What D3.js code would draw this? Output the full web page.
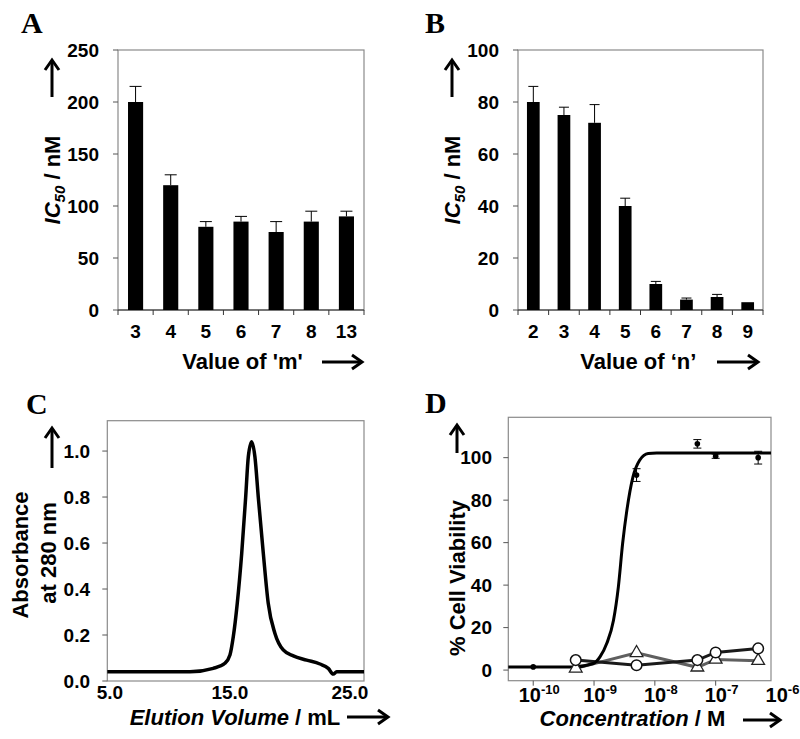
<!DOCTYPE html>
<html><head><meta charset="utf-8">
<script src="https://cdn.jsdelivr.net/npm/d3@7"></script>
<style>body{margin:0;background:#fff} svg{display:block}</style>
</head><body>
<svg id="c" width="800" height="739"></svg>
<script>
// ---------- DATA ----------
const catsA = ['3','4','5','6','7','8','13'];
const valsA = [200,120,80,85,75,85,90];
const errA  = [15,10,5,5,10,10,5];
const ticksA = [0,50,100,150,200,250];

const catsB = ['2','3','4','5','6','7','8','9'];
const valsB = [80,75,72,40,10,4,5,3];
const errB  = [6,3,7,3,1,0.6,1,0];
const ticksB = [0,20,40,60,80,100];

const elutionVol = [4.78,11.67,13.61,14.58,15.0,15.28,15.61,15.98,16.31,16.53,16.81,17.08,17.36,17.78,18.19,18.75,19.44,20.28,21.39,22.5,23.19,23.61,23.89,26.17];
const absorbance = [0.04,0.04,0.055,0.077,0.113,0.193,0.338,0.555,0.80,0.975,1.04,0.975,0.80,0.555,0.338,0.207,0.135,0.109,0.091,0.074,0.055,0.030,0.04,0.04];
const ticksCy = [0,0.2,0.4,0.6,0.8,1.0];
const ticksCx = [5,15,25];

const concDots = [1e-10,5e-10,5e-9,5e-8,1e-7,5e-7];
const viabDots = [1.5,1.6,91.8,106.5,100.7,100];
const errDots  = [0.5,0.5,3,2,1,3];
const concOpen = [5e-10,5e-9,5e-8,1e-7,5e-7];
const viabCircles   = [4.7,2.3,4.7,8.3,10.2];
const viabTriangles = [0.8,8.1,1.3,5.0,4.4];
const fitLogConc = [-10.41,-9.34,-9.01,-8.90,-8.79,-8.68,-8.60,-8.53,-8.46,-8.36,-8.25,-8.11,-7.97,-6.09];
const fitViab    = [1.5,1.5,3.1,6.3,12.6,23.5,39.2,59.6,75.3,91,98.8,102,102.2,102.2];
const ticksDy = [0,20,40,60,80,100];
const ticksDxExp = [-10,-9,-8,-7,-6];

// ---------- DRAW ----------
const svg = d3.select('#c');
const SANS = "'Liberation Sans', Arial, sans-serif";
const SERIF = "'Liberation Serif', 'Times New Roman', serif";
const FRAME = '#8a8a8a';
const TICKFS = 19, TITLEFS = 22;

function arrowH(x1, x2, y){
  svg.append('line').attr('x1',x1).attr('x2',x2-2).attr('y1',y).attr('y2',y)
    .attr('stroke','#000').attr('stroke-width',3);
  svg.append('path').attr('d',`M${x2-10},${y-7}L${x2},${y}L${x2-10},${y+7}`)
    .attr('fill','none').attr('stroke','#000').attr('stroke-width',3);
}
function arrowV(x, yBottom, yTop){
  svg.append('line').attr('x1',x).attr('x2',x).attr('y1',yBottom).attr('y2',yTop+2)
    .attr('stroke','#000').attr('stroke-width',3);
  svg.append('path').attr('d',`M${x-7},${yTop+10}L${x},${yTop}L${x+7},${yTop+10}`)
    .attr('fill','none').attr('stroke','#000').attr('stroke-width',3);
}
function letter(t,x,y){
  svg.append('text').attr('x',x).attr('y',y).text(t)
    .attr('font-family',SERIF).attr('font-weight','bold').attr('font-size',30);
}
function frame(l,r,t,b){
  svg.append('rect').attr('x',l).attr('y',t).attr('width',r-l).attr('height',b-t)
    .attr('fill','none').attr('stroke',FRAME).attr('stroke-width',1.2);
}
function yTicks(scale, ticks, l, fmt, labelRight){
  ticks.forEach(v=>{
    const y = scale(v);
    svg.append('line').attr('x1',l-5).attr('x2',l).attr('y1',y).attr('y2',y)
      .attr('stroke','#555').attr('stroke-width',1);
    svg.append('text').attr('x',labelRight).attr('y',y).attr('dy','0.35em')
      .attr('text-anchor','end').attr('font-family',SANS).attr('font-weight','bold')
      .attr('font-size',TICKFS).text(fmt(v));
  });
}

function barPanel(o){
  const x = d3.scaleBand().domain(o.cats).range([o.l,o.r])
    .paddingInner(o.pad).paddingOuter(o.pad/2);
  const y = d3.scaleLinear().domain(o.dom).range([o.b,o.t]);
  frame(o.l,o.r,o.t,o.b);
  svg.append('line').attr('x1',o.l).attr('x2',o.r).attr('y1',o.b).attr('y2',o.b)
    .attr('stroke','#333').attr('stroke-width',1.2);
  const step = x.step();
  for(let i=0;i<=o.cats.length;i++){
    const xx = o.l + i*step;
    svg.append('line').attr('x1',xx).attr('x2',xx).attr('y1',o.b).attr('y2',o.b+5)
      .attr('stroke','#333').attr('stroke-width',1);
  }
  yTicks(y, o.ticks, o.l, d=>d, o.l-19);
  svg.append('g').selectAll('rect').data(o.vals).join('rect')
    .attr('x',(d,i)=>x(o.cats[i])).attr('width',x.bandwidth())
    .attr('y',d=>y(d)).attr('height',d=>o.b-y(d)).attr('fill','#000');
  o.vals.forEach((v,i)=>{
    if(!o.errs[i]) return;
    const cx = x(o.cats[i]) + x.bandwidth()/2;
    svg.append('line').attr('x1',cx).attr('x2',cx).attr('y1',y(v)).attr('y2',y(v+o.errs[i]))
      .attr('stroke','#000').attr('stroke-width',1);
    svg.append('line').attr('x1',cx-o.cap).attr('x2',cx+o.cap)
      .attr('y1',y(v+o.errs[i])).attr('y2',y(v+o.errs[i]))
      .attr('stroke','#000').attr('stroke-width',1);
  });
  o.cats.forEach(c=>{
    svg.append('text').attr('x',x(c)+x.bandwidth()/2).attr('y',338)
      .attr('text-anchor','middle').attr('font-family',SANS).attr('font-weight','bold')
      .attr('font-size',TICKFS).text(c);
  });
  const yt = svg.append('text').attr('transform',`translate(${o.ytx},180) rotate(-90)`)
    .attr('text-anchor','middle').attr('dy','0.35em')
    .attr('font-family',SANS).attr('font-weight','bold').attr('font-size',TITLEFS);
  yt.append('tspan').attr('font-style','italic').text('IC');
  yt.append('tspan').attr('font-style','italic').attr('font-size',15).attr('dy',5).text('50');
  yt.append('tspan').attr('dy',-5).text(' / nM');
  arrowV(o.ytx, 97, 60);
  svg.append('text').attr('x',o.xtx).attr('y',369).attr('text-anchor','middle')
    .attr('font-family',SANS).attr('font-weight','bold').attr('font-size',TITLEFS)
    .text(o.xtitle);
  arrowH(o.ax1, o.ax2, 362);
}

letter('A',21,33);
barPanel({cats:catsA, vals:valsA, errs:errA, ticks:ticksA, dom:[0,250],
  l:118, r:364, t:50, b:310, pad:0.57, cap:6, ytx:52, xtx:242.5,
  xtitle:"Value of 'm'", ax1:322, ax2:362});
letter('B',425,33);
barPanel({cats:catsB, vals:valsB, errs:errB, ticks:ticksB, dom:[0,100],
  l:518, r:763, t:50, b:310, pad:0.585, cap:5, ytx:452, xtx:638.3,
  xtitle:"Value of \u2018n\u2019", ax1:717, ax2:758});

// ---------- Panel C ----------
letter('C',26,414);
{
  const l=107.3, r=364, t=420.7, b=681;
  const x = d3.scaleLinear().domain([4.78,26.17]).range([l,r]);
  const y = d3.scaleLinear().domain([0,1.132]).range([b,t]);
  frame(l,r,t,b);
  yTicks(y, ticksCy, l, d=>d.toFixed(1), 90);
  ticksCx.forEach(v=>{
    svg.append('text').attr('x',x(v)).attr('y',699).attr('text-anchor','middle')
      .attr('font-family',SANS).attr('font-weight','bold').attr('font-size',TICKFS)
      .text(v.toFixed(1));
  });
  const line = d3.line().x((d,i)=>x(elutionVol[i])).y(d=>y(d)).curve(d3.curveMonotoneX);
  svg.append('path').attr('d',line(absorbance)).attr('fill','none')
    .attr('stroke','#000').attr('stroke-width',3.5).attr('stroke-linejoin','round');
  svg.append('text').attr('transform','translate(20,555) rotate(-90)').attr('dy','0.35em')
    .attr('font-family',SANS).attr('font-weight','bold').attr('font-size',TITLEFS)
    .attr('text-anchor','middle').text('Absorbance');
  svg.append('text').attr('transform','translate(48,553) rotate(-90)').attr('dy','0.35em')
    .attr('font-family',SANS).attr('font-weight','bold').attr('font-size',TITLEFS)
    .attr('text-anchor','middle').text('at 280 nm');
  arrowV(52, 468, 428);
  const xt = svg.append('text').attr('x',235).attr('y',725).attr('text-anchor','middle')
    .attr('font-family',SANS).attr('font-weight','bold').attr('font-size',TITLEFS);
  xt.append('tspan').attr('font-style','italic').text('Elution Volume');
  xt.append('tspan').text(' / mL');
  arrowH(347, 388, 717);
}

// ---------- Panel D ----------
letter('D',425,413);
{
  const l=508.3, r=771, t=417.3, b=680.7;
  const x = d3.scaleLog().domain([Math.pow(10,-10.41),Math.pow(10,-6.09)]).range([l,r]);
  const y = d3.scaleLinear().domain([-5,119]).range([b,t]);
  frame(l,r,t,b);
  yTicks(y, ticksDy, l, d=>d, 492);
  ticksDxExp.forEach(e=>{
    const xx = x(Math.pow(10,e));
    if(xx < r-1){
      svg.append('line').attr('x1',xx).attr('x2',xx).attr('y1',b).attr('y2',b+5)
        .attr('stroke','#555').attr('stroke-width',1);
    }
    const tx = svg.append('text').attr('x',xx+6).attr('y',702).attr('text-anchor','middle')
      .attr('font-family',SANS).attr('font-weight','bold').attr('font-size',20);
    tx.append('tspan').text('10');
    tx.append('tspan').attr('font-size',13).attr('dy',-8).text(String(e));
  });
  const lineOpen = vals => d3.line().x((d,i)=>x(concOpen[i])).y(d=>y(d))(vals);
  svg.append('path').attr('d',lineOpen(viabTriangles)).attr('fill','none')
    .attr('stroke','#5f5f5f').attr('stroke-width',3);
  svg.append('path').attr('d',lineOpen(viabCircles)).attr('fill','none')
    .attr('stroke','#1a1a1a').attr('stroke-width',3);
  const fit = d3.line().x((d,i)=>x(Math.pow(10,fitLogConc[i]))).y(d=>y(d)).curve(d3.curveMonotoneX);
  svg.append('path').attr('d',fit(fitViab)).attr('fill','none')
    .attr('stroke','#000').attr('stroke-width',3);
  viabDots.forEach((v,i)=>{
    const cx = x(concDots[i]);
    const e = errDots[i];
    if(e>0.8){
      svg.append('line').attr('x1',cx).attr('x2',cx).attr('y1',y(v-e)).attr('y2',y(v+e))
        .attr('stroke','#000').attr('stroke-width',1);
      [v-e,v+e].forEach(w=>svg.append('line').attr('x1',cx-4).attr('x2',cx+4)
        .attr('y1',y(w)).attr('y2',y(w)).attr('stroke','#000').attr('stroke-width',1));
    }
    svg.append('circle').attr('cx',cx).attr('cy',y(v)).attr('r',2.8).attr('fill','#000');
  });
  const tri = d3.symbol().type(d3.symbolTriangle).size(70);
  viabTriangles.forEach((v,i)=>{
    svg.append('path').attr('d',tri()).attr('transform',`translate(${x(concOpen[i])},${y(v)})`)
      .attr('fill','#fff').attr('stroke','#222').attr('stroke-width',1.3);
  });
  viabCircles.forEach((v,i)=>{
    svg.append('circle').attr('cx',x(concOpen[i])).attr('cy',y(v)).attr('r',5.3)
      .attr('fill','#fff').attr('stroke','#111').attr('stroke-width',1.5);
  });
  svg.append('text').attr('transform','translate(457,578) rotate(-90)').attr('dy','0.35em')
    .attr('text-anchor','middle').attr('font-family',SANS).attr('font-weight','bold')
    .attr('font-size',TITLEFS).text('% Cell Viability');
  arrowV(457, 453, 425);
  const xt = svg.append('text').attr('x',632.5).attr('y',726).attr('text-anchor','middle')
    .attr('font-family',SANS).attr('font-weight','bold').attr('font-size',TITLEFS);
  xt.append('tspan').attr('font-style','italic').text('Concentration');
  xt.append('tspan').text(' / M');
  arrowH(743, 780, 720);
}
</script>
</body></html>
